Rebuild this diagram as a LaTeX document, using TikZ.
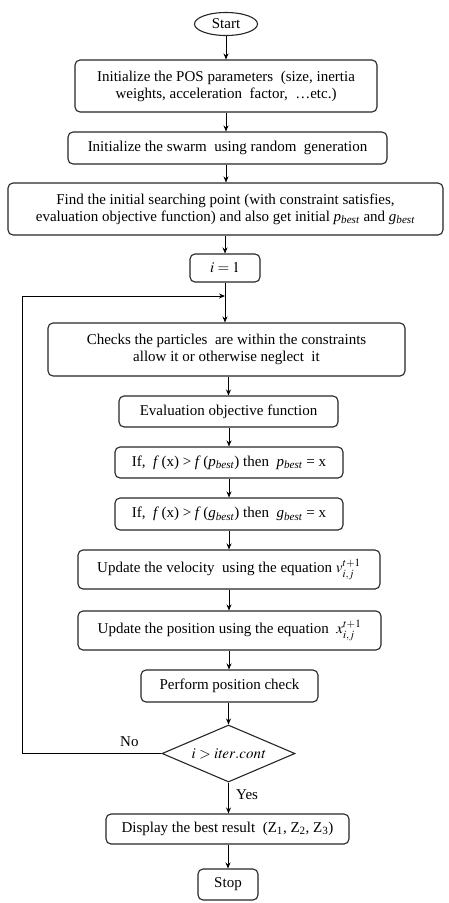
\documentclass[tikz,border=0pt]{standalone}
\usepackage{mathptmx}
\usepackage{fontspec}
\setmainfont{Liberation Serif}
\usetikzlibrary{shapes.geometric,arrows.meta}
\newcommand{\fs}{\fontsize{15}{17}\selectfont}
\newcommand{\bsub}[1]{\textsubscript{\textit{#1}}}
\tikzset{
  box/.style={draw=black!85, line width=1.1pt, rounded corners=5pt, align=center, fill=white, font=\fs, inner sep=0pt},
  flow/.style={-{Stealth[length=6pt,width=5pt]}, line width=0.9pt},
  lbl/.style={font=\fs, inner sep=0pt}
}
\begin{document}
\begin{tikzpicture}[x=1pt,y=-1pt]
\useasboundingbox (0,0) rectangle (449,903);
\node[ellipse, draw=black!85, line width=1.1pt, minimum width=63pt, minimum height=23pt, inner sep=0pt, font=\fs] (start) at (226,24) {Start};
\node[box, minimum width=302pt, minimum height=52pt] (b1) at (226,86) {Initialize the POS parameters \ (size, inertia\\weights, acceleration \ factor, \ \dots etc.)};
\node[box, minimum width=319pt, minimum height=32pt] (b2) at (227.5,148) {Initialize the swarm \ using random \ generation};
\node[box, minimum width=435pt, minimum height=52pt] (b3) at (225.5,209) {Find the initial searching point (with constraint satisfies,\\evaluation objective function) and also get initial \textit{p}\bsub{best} and \textit{g}\bsub{best}};
\node[box, minimum width=70pt, minimum height=28pt] (b4) at (225,268) {$i = 1$};
\node[box, minimum width=357pt, minimum height=53pt] (b5) at (226.5,349.5) {Checks the particles \ are within the constraints\\allow it or otherwise neglect \ it};
\node[box, minimum width=219pt, minimum height=31pt] (b6) at (228.5,411.5) {Evaluation objective function};
\node[box, minimum width=228pt, minimum height=31pt] (b7) at (229,462.5) {If, \ \textit{f}\,(x) > \textit{f}\,(\textit{p}\bsub{best}) then \ \textit{p}\bsub{best} = x};
\node[box, minimum width=228pt, minimum height=32pt] (b8) at (229,514) {If, \ \textit{f}\,(x) > \textit{f}\,(\textit{g}\bsub{best}) then \ \textit{g}\bsub{best} = x};
\node[box, minimum width=302pt, minimum height=39pt] (b9) at (229,569.5) {Update the velocity \ using the equation $v_{i,j}^{t+1}$};
\node[box, minimum width=303pt, minimum height=39pt] (b10) at (229.5,630.5) {Update the position using the equation \ $x_{i,j}^{t+1}$};
\node[box, minimum width=177pt, minimum height=32pt] (b11) at (229.5,686) {Perform position check};
\node[diamond, draw=black!85, line width=1.1pt, minimum width=133pt, minimum height=57pt, inner sep=0pt] (d) at (228.5,753.5) {};
\node[lbl] (dt) at (d.center) {$i > \mathit{iter.cont}$};
\node[box, minimum width=243pt, minimum height=30pt] (b12) at (227.5,829) {Display the best result \ (Z\textsubscript{1}, Z\textsubscript{2}, Z\textsubscript{3})};
\node[box, minimum width=60pt, minimum height=31pt] (b13) at (228,884.5) {Stop};
\coordinate (j) at (b4.south |- 0,296);
\coordinate (lb) at (22,753.5);
\coordinate (lt) at (22,296);
\draw[flow] (start) -- (b1);
\draw[flow] (b1.south -| start) -- (b2.north -| start);
\draw[flow] (b2.south -| start) -- (b3.north -| start);
\draw[flow] (b3.south -| b4) -- (b4.north);
\draw[flow] (b4.south) -- (b5.north -| b4);
\draw[flow] (d.west) -- (lb) -- (lt) -- (j);
\draw[flow] (b5.south -| b6) -- (b6.north);
\draw[flow] (b6.south -| b7) -- (b7.north);
\draw[flow] (b7.south) -- (b8.north);
\draw[flow] (b8.south) -- (b9.north -| b8);
\draw[flow] (b9.south -| b8) -- (b10.north -| b8);
\draw[flow] (b10.south -| b8) -- (b11.north -| b8);
\draw[flow] (b11.south -| d) -- (d.north);
\draw[flow] (d.south) -- (b12.north -| d);
\draw[flow] (b12.south -| b13) -- (b13.north);
\node[lbl, anchor=west] (no) at (120,742) {No};
\node[lbl, anchor=west] (yes) at (236,795) {Yes};
\end{tikzpicture}
\end{document}
